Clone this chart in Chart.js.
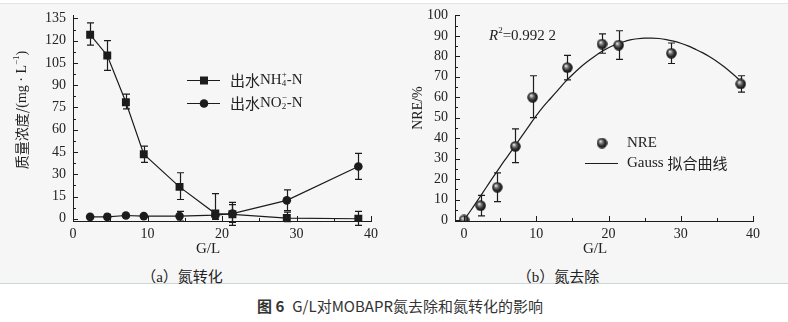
<!DOCTYPE html>
<html>
<head>
<meta charset="utf-8">
<script src="https://cdn.jsdelivr.net/npm/chart.js@4.4.1/dist/chart.umd.min.js"></script>
<style>
  html, body { margin: 0; padding: 0; background: #fff; }
  #wrap { position: relative; width: 788px; height: 322px; overflow: hidden; }
  #band { position: absolute; left: 0; top: 3px; width: 788px; height: 281px; box-sizing: border-box;
          background: #f6f6f6; border-top: 1px solid #dfe6e6; border-bottom: 1px solid #cdd6d6; }
  canvas { position: absolute; top: 0; }
  #chartA { left: 0; }
  #chartB { left: 394px; }
  .cap { position: absolute; top: 265px; font: 15px "Noto Sans CJK SC", sans-serif; color: #222;
         transform: translateX(-50%); white-space: nowrap; }
  .cap .lat { font-family: "Liberation Serif", serif; }
  #title { position: absolute; top: 295px; left: 257px; font: 15px "Noto Sans CJK SC", sans-serif;
           color: #333; white-space: nowrap; }
  #title b { font-weight: bold; margin-right: 8px; }
</style>
</head>
<body>
<div id="wrap">
  <div id="band"></div>
  <canvas id="chartA" width="394" height="262"></canvas>
  <canvas id="chartB" width="394" height="262"></canvas>
  <div class="cap" style="left:182px">（<span class="lat">a</span>）氮转化</div>
  <div class="cap" style="left:558px">（<span class="lat">b</span>）氮去除</div>
  <div id="title"><b>图 6</b>G/L对MOBAPR氮去除和氮转化的影响</div>
</div>
<script>
// G/L ratios of the runs
const glRatio = [2.3, 4.6, 7.1, 9.5, 14.3, 19.1, 21.4, 28.7, 38.3];

// effluent NH4+-N, mg/L, with error bar ends
const nh4 = [124, 110, 78.5, 43.5, 21.5, 3.5, 3, 0.5, 0];
const nh4Low = [117, 100, 74, 38, 13, 0, -4.5, -2, -4.5];
const nh4High = [132, 120, 84, 49, 31, 17, 11, 4.5, 5];

// effluent NO2--N, mg/L
const no2 = [1.3, 1.3, 2.2, 1.8, 1.8, 2.4, 3.5, 12.4, 35.2];
const no2Low = [0.8, -0.5, 1.7, 1.3, -1.5, -0.5, -2.5, 5.5, 26.5];
const no2High = [1.8, 3, 2.7, 2.3, 5, 5.5, 9.5, 19.5, 44];

// nitrogen removal efficiency, %
const nreRatio = [0, 2.3, 4.6, 7.1, 9.5, 14.3, 19.1, 21.4, 28.7, 38.3];
const nre = [0, 7, 16, 36, 60, 74.5, 86, 85.5, 81.5, 66.5];
const nreLow = [0, 2, 9, 28, 50, 68.5, 81.5, 78.5, 76.5, 62.5];
const nreHigh = [0, 12, 23, 44.5, 70.5, 80.5, 91, 92.5, 86.5, 70.5];

// Gauss fit curve
const fitRatio = [0, 1, 2, 3, 4, 5, 6, 7, 8, 9, 10, 11, 12, 13, 14, 15, 16, 17, 18, 19,
  20, 21, 22, 23, 24, 25, 26, 27, 28, 29, 30, 31, 32, 33, 34, 35, 36, 37, 38, 38.3];
const fitNre = [0, 5, 10.2, 15.5, 20.8, 26, 31, 36, 41, 46, 51, 55.5, 59.5, 63.5, 67.5, 71,
  74.3, 77.2, 79.8, 82.2, 84.2, 85.8, 87, 88, 88.6, 88.9, 88.9, 88.7, 88.2, 87.4, 86.4, 85.1,
  83.5, 81.8, 79.8, 77.5, 74.9, 72, 68.8, 67.5];

// tick labels
const xTicks = [0, 10, 20, 30, 40];
const concTicks = [0, 15, 30, 45, 60, 75, 90, 105, 120, 135];
const nreTicks = [0, 10, 20, 30, 40, 50, 60, 70, 80, 90, 100];

const ink = '#1c1c1c';
const serif = '"Liberation Serif", "Times New Roman", serif';
const cjk = '"Noto Sans CJK SC", sans-serif';

const pts = (xs, ys) => xs.map((x, i) => ({ x, y: ys[i] }));

// text in runs of different fonts; a run with adv === false does not move the pen
function richText(ctx, runs, x, y, align) {
  let w = 0;
  runs.forEach(r => { ctx.font = r.font; if (r.adv !== false) w += ctx.measureText(r.t).width; });
  let cx = align === 'center' ? x - w / 2 : x;
  ctx.textAlign = 'left';
  ctx.textBaseline = 'middle';
  runs.forEach(r => {
    ctx.font = r.font;
    ctx.fillText(r.t, cx, y + (r.dy || 0));
    if (r.adv !== false) cx += ctx.measureText(r.t).width;
  });
}

// shaded ball marker
function makeBall(d) {
  const c = document.createElement('canvas');
  c.width = d; c.height = d;
  const g = c.getContext('2d');
  const r = d / 2;
  const grad = g.createRadialGradient(r - 1.6, r - 1.8, 0.3, r, r, r);
  grad.addColorStop(0, '#f0f0f0');
  grad.addColorStop(0.3, '#7a7a7a');
  grad.addColorStop(0.65, '#2c2c2c');
  grad.addColorStop(1, '#0c0c0c');
  g.fillStyle = grad;
  g.beginPath();
  g.arc(r, r, r - 0.3, 0, Math.PI * 2);
  g.fill();
  return c;
}
const ball = makeBall(11);

// vertical error bars with caps, under the markers
const errorBars = {
  id: 'errorBars',
  beforeDatasetsDraw(chart) {
    const { ctx, scales: { x, y } } = chart;
    ctx.save();
    ctx.strokeStyle = ink;
    ctx.lineWidth = 1.2;
    chart.data.datasets.forEach(ds => {
      if (!ds.errLow) return;
      ds.data.forEach((p, i) => {
        const lo = ds.errLow[i], hi = ds.errHigh[i];
        if (lo === hi) return;
        const px = Math.round(x.getPixelForValue(p.x)) + 0.5;
        const y1 = y.getPixelForValue(lo), y2 = y.getPixelForValue(hi);
        ctx.beginPath();
        ctx.moveTo(px, y1); ctx.lineTo(px, y2);
        ctx.moveTo(px - 3.5, y1); ctx.lineTo(px + 3.5, y1);
        ctx.moveTo(px - 3.5, y2); ctx.lineTo(px + 3.5, y2);
        ctx.stroke();
      });
    });
    ctx.restore();
  }
};

// ticks pointing into the plot, with one minor tick between majors
const innerTicks = {
  id: 'innerTicks',
  afterDraw(chart) {
    const { ctx, chartArea: a, scales: { x, y } } = chart;
    ctx.save();
    ctx.strokeStyle = ink;
    ctx.lineWidth = 1;
    ctx.beginPath();
    const xt = x.ticks.map(t => t.value);
    for (let i = 0; i < xt.length; i++) {
      const px = Math.round(x.getPixelForValue(xt[i])) + 0.5;
      ctx.moveTo(px, a.bottom); ctx.lineTo(px, a.bottom - 5);
      if (i < xt.length - 1) {
        const mx = Math.round(x.getPixelForValue((xt[i] + xt[i + 1]) / 2)) + 0.5;
        ctx.moveTo(mx, a.bottom); ctx.lineTo(mx, a.bottom - 3);
      }
    }
    const yt = y.ticks.map(t => t.value);
    for (let i = 0; i < yt.length; i++) {
      const py = Math.round(y.getPixelForValue(yt[i])) + 0.5;
      ctx.moveTo(a.left, py); ctx.lineTo(a.left + 5, py);
      if (i < yt.length - 1) {
        const my = Math.round(y.getPixelForValue((yt[i] + yt[i + 1]) / 2)) + 0.5;
        ctx.moveTo(a.left, my); ctx.lineTo(a.left + 3, my);
      }
    }
    ctx.stroke();
    ctx.restore();
  }
};

function axes(xMin, yMin, yMax, yTicks, yWidth) {
  const common = {
    type: 'linear',
    grid: { display: true, drawOnChartArea: false, drawTicks: false },
    border: { display: true, color: ink, width: 1 },
  };
  return {
    x: {
      ...common, min: xMin, max: 40,
      afterBuildTicks: s => { s.ticks = xTicks.map(v => ({ value: v })); },
      afterFit: s => { s.height = 41; },
      ticks: { padding: 5, color: '#222', font: { family: serif, size: 14 } },
    },
    y: {
      ...common, min: yMin, max: yMax,
      afterBuildTicks: s => { s.ticks = yTicks.map(v => ({ value: v })); },
      afterFit: s => { s.width = yWidth; },
      ticks: { padding: 7, color: '#222', font: { family: serif, size: 14 } },
    },
  };
}

const base = {
  responsive: false,
  animation: false,
  events: [],
  devicePixelRatio: 1,
  plugins: { legend: { display: false }, tooltip: { enabled: false } },
};

// (a) nitrogen conversion
const labelsA = {
  id: 'labelsA',
  afterDraw(chart) {
    const ctx = chart.ctx;
    ctx.save();
    ctx.fillStyle = '#222';
    ctx.strokeStyle = ink;
    ctx.lineWidth = 1.2;
    // legend
    ctx.beginPath();
    ctx.moveTo(187, 80.5); ctx.lineTo(220, 80.5);
    ctx.moveTo(187, 103.5); ctx.lineTo(220, 103.5);
    ctx.stroke();
    ctx.fillStyle = ink;
    ctx.fillRect(200, 76.5, 8, 8);
    ctx.beginPath(); ctx.arc(204, 103.5, 4.3, 0, Math.PI * 2); ctx.fill();
    ctx.fillStyle = '#222';
    richText(ctx, [
      { t: '出水', font: `15px ${cjk}` },
      { t: 'NH', font: `15px ${serif}` },
      { t: '4', font: `9px ${serif}`, dy: 4, adv: false },
      { t: '+', font: `9px ${serif}`, dy: -5 },
      { t: '-N', font: `15px ${serif}` },
    ], 230, 80, 'left');
    richText(ctx, [
      { t: '出水', font: `15px ${cjk}` },
      { t: 'NO', font: `15px ${serif}` },
      { t: '2', font: `9px ${serif}`, dy: 4, adv: false },
      { t: '−', font: `9px ${serif}`, dy: -5 },
      { t: '-N', font: `15px ${serif}` },
    ], 230, 103, 'left');
    // axis titles
    richText(ctx, [{ t: 'G/L', font: `15px ${serif}` }], 208, 249, 'center');
    ctx.translate(22, 110);
    ctx.rotate(-Math.PI / 2);
    richText(ctx, [
      { t: '质量浓度/', font: `14px ${cjk}` },
      { t: '(mg · L', font: `14px ${serif}` },
      { t: '−1', font: `9px ${serif}`, dy: -5 },
      { t: ')', font: `14px ${serif}` },
    ], 0, 0, 'center');
    ctx.restore();
  }
};

new Chart(document.getElementById('chartA'), {
  type: 'scatter',
  data: {
    datasets: [
      {
        data: pts(glRatio, nh4), errLow: nh4Low, errHigh: nh4High,
        showLine: true, borderColor: ink, borderWidth: 1.2,
        pointStyle: 'rect', pointRadius: 5.6, pointBackgroundColor: ink, pointBorderWidth: 0,
      },
      {
        data: pts(glRatio, no2), errLow: no2Low, errHigh: no2High,
        showLine: true, borderColor: ink, borderWidth: 1.2,
        pointStyle: 'circle', pointRadius: 4.3, pointBackgroundColor: ink, pointBorderWidth: 0,
      },
    ],
  },
  options: {
    ...base,
    layout: { padding: { top: 8, right: 23, left: 0, bottom: 0 } },
    scales: axes(0, -1.5, 137, concTicks, 73),
  },
  plugins: [errorBars, innerTicks, labelsA],
});

// (b) nitrogen removal
const labelsB = {
  id: 'labelsB',
  afterDraw(chart) {
    const ctx = chart.ctx;
    ctx.save();
    ctx.fillStyle = '#222';
    richText(ctx, [
      { t: 'R', font: `italic 15px ${serif}` },
      { t: '2', font: `9px ${serif}`, dy: -5 },
      { t: '=0.992 2', font: `15px ${serif}` },
    ], 95, 36, 'left');
    ctx.drawImage(ball, 208 - 5.5, 143 - 5.5);
    richText(ctx, [{ t: 'NRE', font: `15px ${serif}` }], 233, 143, 'left');
    ctx.strokeStyle = ink;
    ctx.lineWidth = 1.2;
    ctx.beginPath(); ctx.moveTo(191, 163.5); ctx.lineTo(224, 163.5); ctx.stroke();
    richText(ctx, [
      { t: 'Gauss ', font: `15px ${serif}` },
      { t: '拟合曲线', font: `15px ${cjk}` },
    ], 233, 163, 'left');
    richText(ctx, [{ t: 'G/L', font: `15px ${serif}` }], 201, 249, 'center');
    ctx.translate(24, 108);
    ctx.rotate(-Math.PI / 2);
    richText(ctx, [{ t: 'NRE/%', font: `14px ${serif}` }], 0, 0, 'center');
    ctx.restore();
  }
};

new Chart(document.getElementById('chartB'), {
  type: 'scatter',
  data: {
    datasets: [
      {
        data: pts(nreRatio, nre), errLow: nreLow, errHigh: nreHigh,
        showLine: false, pointStyle: ball, pointRadius: 5.5,
      },
      {
        data: pts(fitRatio, fitNre),
        showLine: true, borderColor: ink, borderWidth: 1.2,
        cubicInterpolationMode: 'monotone', pointRadius: 0,
      },
    ],
  },
  options: {
    ...base,
    layout: { padding: { top: 11, right: 35, left: 0, bottom: 0 } },
    scales: axes(-1.25, -0.5, 100, nreTicks, 61),
  },
  plugins: [errorBars, innerTicks, labelsB],
});
</script>
</body>
</html>
